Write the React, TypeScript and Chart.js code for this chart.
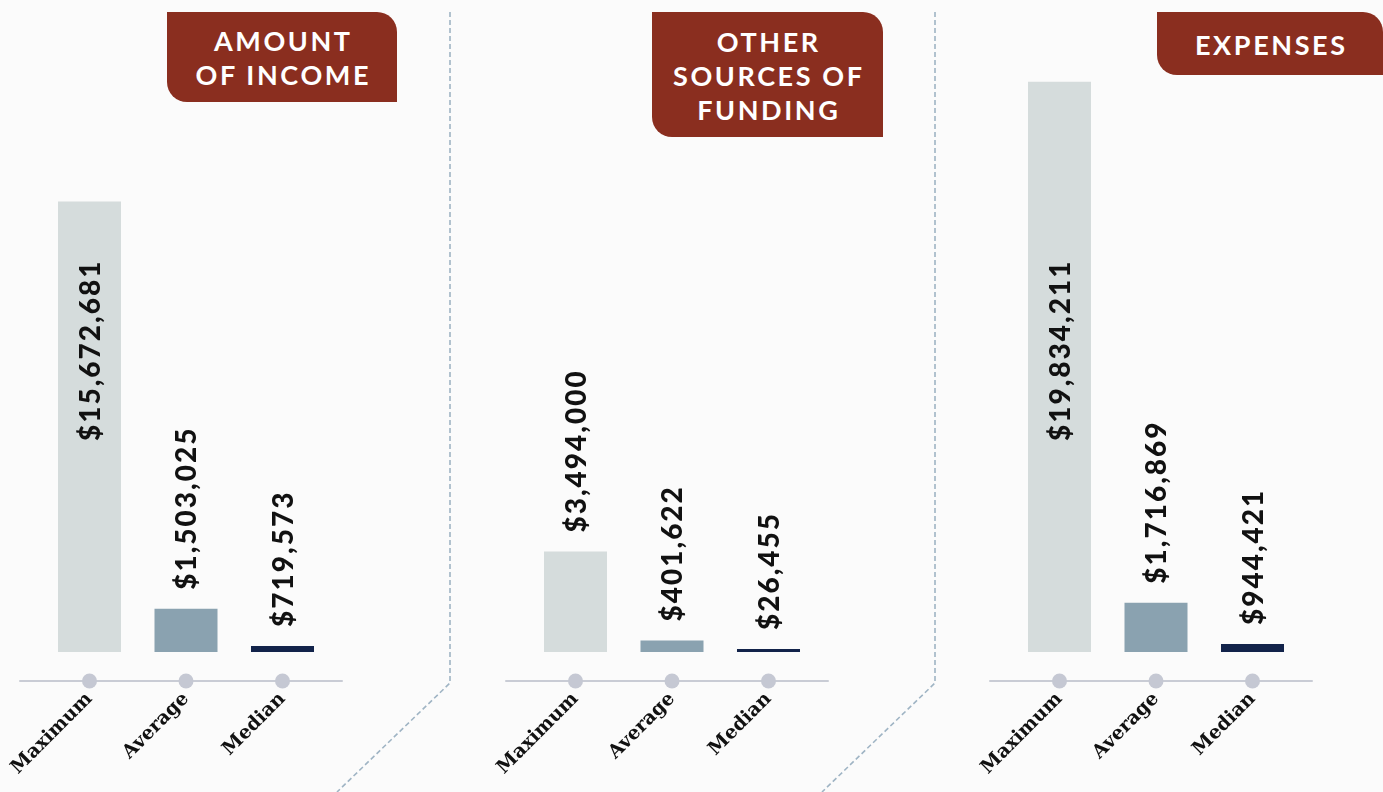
import { useEffect, useRef } from "react";
import { Chart, registerables } from "chart.js";

Chart.register(...registerables);

// categories and values per panel (income, other funding, expenses)
const categories = ["Maximum", "Average", "Median"];
const panelTitles = [["AMOUNT", "OF INCOME"], ["OTHER", "SOURCES OF", "FUNDING"], ["EXPENSES"]];
const maximumValues = [15672681, 3494000, 19834211];
const averageValues = [1503025, 401622, 1716869];
const medianValues = [719573, 26455, 944421];

// shared value axis; the original draws the median marker on a compressed scale
const valueAxisMax = 20000000;
const medianAxisMax = 68000000;

const COLORS = {
  maximum: "#d5dcdc",
  average: "#8aa2b0",
  median: "#12234a",
  tab: "#8a2e1f",
  dot: "#c5c8d3",
  axis: "#c9ccd5",
  separator: "#9fb4c4",
  text: "#111111",
  background: "#fbfbfb",
};

const PANEL_LEFT = [0, 486, 970];
const TAB_BOXES = [
  { left: 167, width: 230, height: 90 },
  { left: 652, width: 231, height: 125 },
  { left: 1157, width: 226, height: 63 },
];
const CANVAS_W = 420;
const CANVAS_H = 792;

const money = (v: number) => "$" + v.toLocaleString("en-US");

// vertical value labels above each bar (inside the bar when it is tall)
const valueLabels = {
  id: "valueLabels",
  afterDatasetsDraw(chart: any) {
    const { ctx, chartArea } = chart;
    const base = chartArea.bottom;
    ctx.save();
    ctx.font = "900 28px Lato";
    (ctx as any).letterSpacing = "2px";
    ctx.fillStyle = COLORS.text;
    ctx.textAlign = "left";
    ctx.textBaseline = "alphabetic";
    chart.data.datasets.forEach((ds: any, di: number) => {
      const meta = chart.getDatasetMeta(di);
      meta.data.forEach((bar: any, i: number) => {
        const v = ds.data[i];
        if (v == null) return;
        const { x, y } = bar.getProps(["x", "y"], true);
        const inside = base - y > 300;
        const startY = inside ? base - 211 : y - 19;
        ctx.save();
        ctx.translate(x, startY);
        ctx.rotate(-Math.PI / 2);
        ctx.fillText(money(v), 0, 10);
        ctx.restore();
      });
    });
    ctx.restore();
  },
};

// baseline rule with a dot under each category
const axisDots = {
  id: "axisDots",
  afterDatasetsDraw(chart: any) {
    const { ctx, chartArea, scales } = chart;
    const y = chartArea.bottom + 29;
    ctx.save();
    ctx.strokeStyle = COLORS.axis;
    ctx.lineWidth = 2;
    ctx.beginPath();
    ctx.moveTo(chartArea.left - 22, y);
    ctx.lineTo(chartArea.right + 12, y);
    ctx.stroke();
    ctx.fillStyle = COLORS.dot;
    categories.forEach((_, i) => {
      ctx.beginPath();
      ctx.arc(scales.x.getPixelForValue(i), y, 7.5, 0, Math.PI * 2);
      ctx.fill();
    });
    ctx.restore();
  },
};

function Panel({ index }: { index: number }) {
  const canvasRef = useRef<HTMLCanvasElement | null>(null);

  useEffect(() => {
    if (!canvasRef.current) return;
    const chart = new Chart(canvasRef.current, {
      type: "bar",
      data: {
        labels: categories,
        datasets: [
          {
            data: [maximumValues[index], averageValues[index], null],
            backgroundColor: [COLORS.maximum, COLORS.average, COLORS.median],
            yAxisID: "y",
          },
          {
            data: [null, null, medianValues[index]],
            backgroundColor: COLORS.median,
            yAxisID: "yMedian",
            minBarLength: 3,
          },
        ],
      },
      options: {
        responsive: false,
        animation: false,
        layout: { padding: { left: 41.25, right: CANVAS_W - 330.75, top: 77, bottom: 0 } },
        plugins: {
          legend: { display: false },
          tooltip: { enabled: false },
        },
        datasets: {
          bar: { grouped: false, categoryPercentage: 1, barPercentage: 0.653, borderWidth: 0 },
        },
        scales: {
          x: {
            grid: { display: false, drawTicks: false },
            border: { display: false },
            ticks: {
              autoSkip: false,
              minRotation: 45,
              maxRotation: 45,
              padding: 36,
              color: COLORS.text,
              font: { family: "DejaVu Serif", weight: "bold", size: 19 },
            },
            afterFit: (scale: any) => {
              // keep the plot area fixed; rotated labels may overhang it
              scale.height = 140;
              scale.paddingLeft = 0;
              scale.paddingRight = 0;
            },
          },
          y: { display: false, min: 0, max: valueAxisMax },
          yMedian: { display: false, min: 0, max: medianAxisMax },
        },
      } as any,
      plugins: [axisDots, valueLabels],
    });
    return () => chart.destroy();
  }, [index]);

  return (
    <canvas
      ref={canvasRef}
      width={CANVAS_W}
      height={CANVAS_H}
      style={{ position: "absolute", left: PANEL_LEFT[index], top: 0 }}
    />
  );
}

export default function App() {
  return (
    <div
      style={{
        position: "fixed",
        left: 0,
        top: 0,
        width: 1383,
        height: 792,
        overflow: "hidden",
        background: COLORS.background,
      }}
    >
      <svg width={1383} height={792} style={{ position: "absolute", left: 0, top: 0 }}>
        <path d="M450 12 L450 683 L337 792" fill="none" stroke={COLORS.separator} strokeWidth={1.6} strokeDasharray="5 3" />
        <path d="M935 12 L935 683 L822 792" fill="none" stroke={COLORS.separator} strokeWidth={1.6} strokeDasharray="5 3" />
      </svg>
      {[0, 1, 2].map((i) => (
        <Panel key={i} index={i} />
      ))}
      {TAB_BOXES.map((t, i) => (
        <div
          key={i}
          style={{
            position: "absolute",
            left: t.left,
            top: 12,
            width: t.width,
            height: t.height,
            background: COLORS.tab,
            borderRadius: "0 20px 0 20px",
            display: "flex",
            flexDirection: "column",
            justifyContent: "center",
            alignItems: "center",
            color: "#ffffff",
            fontFamily: "Lato",
            fontWeight: 700,
            fontSize: 27,
            letterSpacing: "2.6px",
            lineHeight: "34px",
            paddingLeft: 2.6,
            paddingTop: 2,
            boxSizing: "border-box",
          }}
        >
          {panelTitles[i].map((line) => (
            <div key={line}>{line}</div>
          ))}
        </div>
      ))}
    </div>
  );
}
